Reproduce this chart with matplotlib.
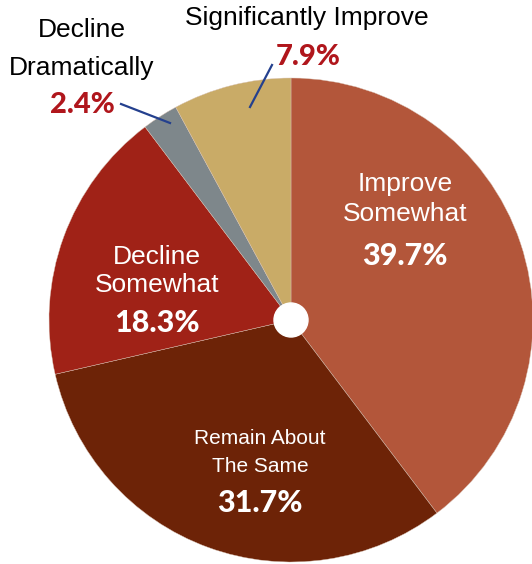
import matplotlib
matplotlib.use("Agg")
import matplotlib.pyplot as plt
from matplotlib.patches import Circle

# Survey outlook shares, clockwise from 12 o'clock
categories = ["Improve Somewhat", "Remain About The Same", "Decline Somewhat",
              "Decline Dramatically", "Significantly Improve"]
values = [39.7, 31.7, 18.3, 2.4, 7.9]
colors = ["#B3563A", "#6D2307", "#A02217", "#7E878B", "#C9AB67"]

W, H = 532, 564
fig = plt.figure(figsize=(W / 100, H / 100), dpi=100)
ax = fig.add_axes([0, 0, 1, 1])

cx, cy, r = 291, H - 320, 242
ax.pie(values, colors=colors, startangle=90, counterclock=False,
       center=(cx, cy), radius=r, frame=True,
       wedgeprops=dict(edgecolor="#d9c2b4", linewidth=0.3))
ax.set_xlim(0, W)
ax.set_ylim(0, H)
ax.set_aspect("equal")
ax.axis("off")
ax.add_patch(Circle((cx, cy), 17, color="white", zorder=5))

lab_font = ["Liberation Sans", "DejaVu Sans"]
pct_font = ["Lato", "DejaVu Sans"]


def y(v):
    return H - v


def label(x, yy, s, color, size=19):
    ax.text(x, y(yy), s, ha="center", va="center", color=color,
            fontsize=size, family=lab_font)


def pct(x, yy, v, color, size=22):
    ax.text(x, y(yy), f"{v}%", ha="center", va="center", color=color,
            fontsize=size, family=pct_font, fontweight="black")


# labels inside the slices
label(405, 184, "Improve", "white")
label(405, 214, "Somewhat", "white")
pct(405, 256, values[0], "white")

label(260, 438, "Remain About", "white", 15)
label(260, 466, "The Same", "white", 15)
pct(260, 503, values[1], "white")

label(157, 257, "Decline", "white")
label(157, 285, "Somewhat", "white")
pct(157, 323, values[2], "white")

# callouts for the two narrow slices
label(82, 30, "Decline", "black")
label(82, 68, "Dramatically", "black")
pct(82, 105, values[3], "#B0161C", 21)
ax.plot([121, 170], [y(104), y(123)], color="#24408E", lw=1.6)

label(307, 18, "Significantly Improve", "black")
pct(308, 57, values[4], "#B0161C", 21)
ax.plot([250, 272], [y(107), y(65)], color="#24408E", lw=1.6)

fig.savefig("out.png", dpi=100)
